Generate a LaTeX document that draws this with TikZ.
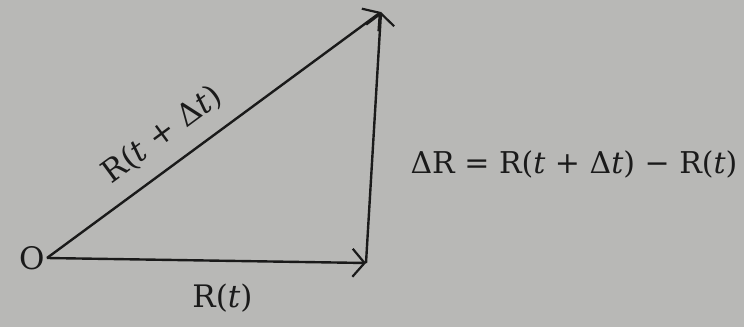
\documentclass[tikz,border=0pt]{standalone}
\usepackage{fontspec}
\setmainfont{DejaVu Serif}
\usepackage{tikz}
\usetikzlibrary{arrows.meta,positioning,calc}
\definecolor{paper}{HTML}{B8B8B6}
\definecolor{ink}{HTML}{1A1A1A}
\newcommand{\tvar}{\textit{t}}

\begin{document}
\begin{tikzpicture}[x=1pt,y=1pt,>={Straight Barb[length=12pt,width=28pt,line width=2.2pt]},line width=2.4pt,draw=ink,every node/.style={text=ink,font=\fontsize{31}{36}\selectfont}]
\fill[paper] (0,0) rectangle (744,327);
\useasboundingbox (0,0) rectangle (744,327);
\coordinate (orig) at (47,69);
\coordinate (tip) at (366,64);
\coordinate (top) at (381,315);
\node[left=-2pt of orig] (O) {O};
\draw[->] (orig) -- node[pos=0.55,below=19pt] (Rt) {R(\tvar)} (tip);
\draw[->] (orig) -- node[pos=0.4,above=12pt,sloped] (Rdt) {R(\tvar\ + Δ\tvar)} (top);
\draw[->] (tip) -- (top);
\node[font=\fontsize{30}{36}\selectfont] (eq) at (574,163) {ΔR = R(\tvar\ + Δ\tvar) − R(\tvar)};
\end{tikzpicture}
\end{document}
